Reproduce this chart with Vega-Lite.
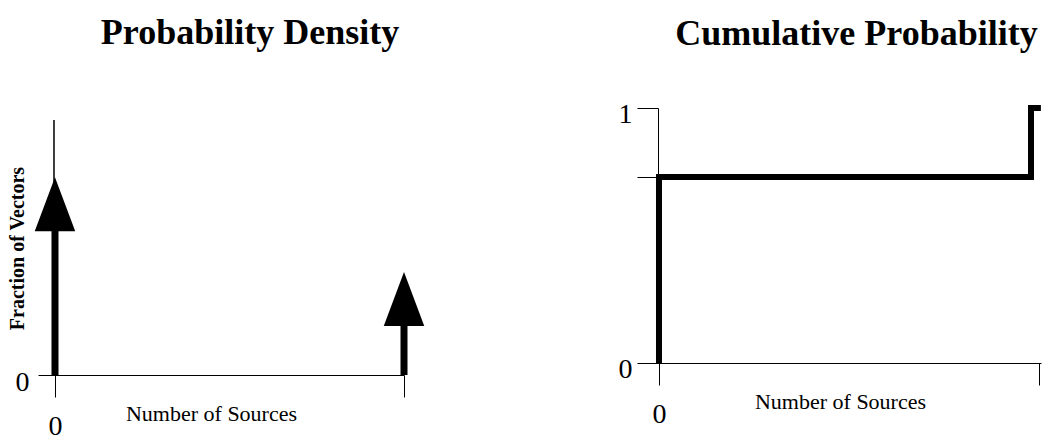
{
  "$schema": "https://vega.github.io/schema/vega-lite/v6.json",
  "background": "white",
  "padding": {"left": 7, "top": 15, "right": 5, "bottom": 0},
  "spacing": 193,
  "config": {
    "view": {"stroke": null},
    "axis": {"domainColor": "black", "tickColor": "black", "labelColor": "black", "titleColor": "black", "labelFont": "Liberation Serif", "titleFont": "Liberation Serif", "grid": false, "domainWidth": 1, "tickWidth": 1},
    "title": {"font": "Liberation Serif", "fontSize": 36, "fontWeight": "bold", "color": "black", "frame": "group"}
  },
  "datasets": {
    "density": [
      {"sources": 0, "fraction": 0.776},
      {"sources": 1, "fraction": 0.404}
    ],
    "cumulative": [
      {"order": 1, "sources": 0, "probability": 0},
      {"order": 2, "sources": 0, "probability": 0.729},
      {"order": 3, "sources": 0.979, "probability": 0.729},
      {"order": 4, "sources": 0.979, "probability": 1},
      {"order": 5, "sources": 1.005, "probability": 1}
    ]
  },
  "hconcat": [
    {
      "title": {"text": "Probability Density", "dx": 29, "offset": 56},
      "width": 366,
      "height": 267,
      "data": {"name": "density"},
      "encoding": {
        "x": {"field": "sources", "type": "quantitative", "scale": {"domain": [-0.0487, 1], "nice": false, "zero": false},
          "axis": {"values": [0, 1], "labelExpr": "datum.value == 0 ? '0' : ''", "tickSize": 22, "labelFontSize": 28, "labelPadding": 15, "title": "Number of Sources", "titleFontSize": 22, "titleFontWeight": "normal", "titleY": 38, "titleBaseline": "middle", "titleX": 173}},
        "y": {"field": "fraction", "type": "quantitative", "scale": {"domain": [0, 1.0471], "nice": false},
          "axis": {"values": [0], "ticks": false, "domain": false, "offset": -16, "labelFontSize": 28, "labelPadding": 25, "labelOffset": 7, "title": "Fraction of Vectors", "titleFontSize": 20, "titleFontWeight": "bold", "titleX": -37, "titleY": 140, "titleBaseline": "middle"}}
      },
      "layer": [
        {"mark": {"type": "rule", "strokeWidth": 1, "color": "black", "xOffset": -1}, "encoding": {"x": {"datum": 0}, "y": {"datum": 1}, "y2": {"datum": 0}}},
        {"mark": {"type": "rule", "strokeWidth": 7, "color": "black", "strokeCap": "butt", "yOffset": 30}, "encoding": {"y2": {"datum": 0}}},
        {"mark": {"type": "point", "shape": "M0,0L0.75,2L-0.75,2Z", "size": 2916, "filled": true, "color": "black", "opacity": 1}}
      ]
    },
    {
      "title": {"text": "Cumulative Probability", "dx": 15, "offset": 43},
      "width": 399,
      "height": 255,
      "data": {"name": "cumulative"},
      "mark": {"type": "line", "strokeWidth": 6, "color": "black", "strokeJoin": "miter", "strokeCap": "butt"},
      "encoding": {
        "x": {"field": "sources", "type": "quantitative", "scale": {"domain": [-0.0447, 1.0053], "nice": false, "zero": false},
          "axis": {"values": [0, 1], "labelExpr": "datum.value == 0 ? '0' : ''", "tickSize": 22, "labelFontSize": 28, "labelPadding": 15, "title": "Number of Sources", "titleFontSize": 22, "titleFontWeight": "normal", "titleY": 38, "titleBaseline": "middle", "titleX": 198}},
        "y": {"field": "probability", "type": "quantitative", "scale": {"domain": [0, 1], "nice": false},
          "axis": {"values": [0, 0.729, 1], "labelExpr": "datum.value == 0 ? '0' : datum.value == 1 ? '1' : ''", "tickSize": 21, "offset": -16, "labelFontSize": 28, "labelPadding": 5, "labelOffset": 6, "title": null}},
        "order": {"field": "order", "type": "quantitative"}
      }
    }
  ]
}
